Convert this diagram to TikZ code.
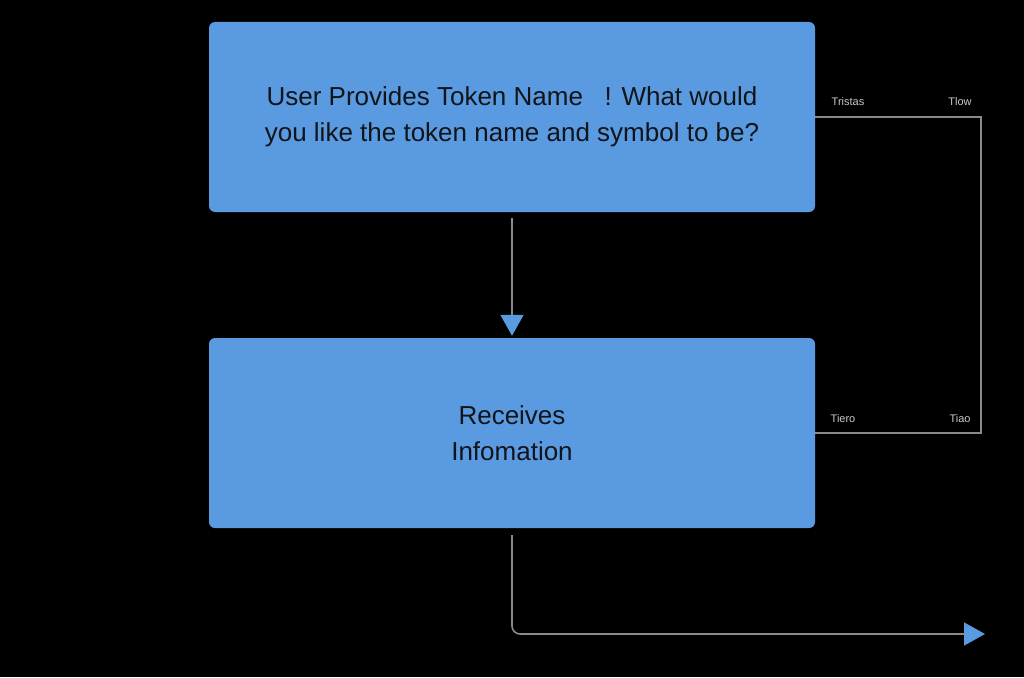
\documentclass[tikz,border=0pt]{standalone}
\usepackage{fontspec}
\setmainfont{Liberation Sans}
\usetikzlibrary{arrows.meta}
\definecolor{boxblue}{HTML}{5A9AE0}
\definecolor{linegray}{HTML}{8A8A8A}
\definecolor{txt}{HTML}{111418}
\definecolor{lbl}{HTML}{C8C8C8}
\tikzset{
  stepbox/.style={fill=boxblue, draw=none, rounded corners=6pt, minimum width=606pt, minimum height=190pt, inner sep=0pt, align=center, text=txt, font=\fontsize{26}{36}\selectfont},
  conn/.style={draw=linegray, line width=1.6pt},
  thin conn/.style={draw=linegray, line width=1.3pt},
  bluetip/.style={-{Triangle[width=23pt,length=21pt,color=boxblue,fill=boxblue]}},
  smalllbl/.style={text=lbl, font=\fontsize{11}{13}\selectfont, inner sep=0pt}
}
\begin{document}
\begin{tikzpicture}[x=1pt,y=-1pt]
\fill[black] (0,0) rectangle (1024,677);
\useasboundingbox (0,0) rectangle (1024,677);
\node[stepbox] (b1) at (512,117) {User Provides Token Name \ \ ! What would\\you like the token name and symbol to be?};
\node[stepbox] (b2) at (512,433) {Receives\\Infomation};
\coordinate (rc) at (981,275);
\coordinate (end) at (985,634);
\draw[conn, bluetip, shorten <=6pt, shorten >=2pt] (b1.south) -- (b2.north);
\draw[thin conn] (b1.east) -| (rc) |- (b2.east);
\draw[conn, bluetip, rounded corners=8pt, shorten <=7pt] (b2.south) |- (end);
\node[smalllbl] (l1) at (848,102) {Tristas};
\node[smalllbl] (l2) at (960,102) {Tlow};
\node[smalllbl] (l3) at (843,419) {Tiero};
\node[smalllbl] (l4) at (960,419) {Tiao};
\end{tikzpicture}
\end{document}
